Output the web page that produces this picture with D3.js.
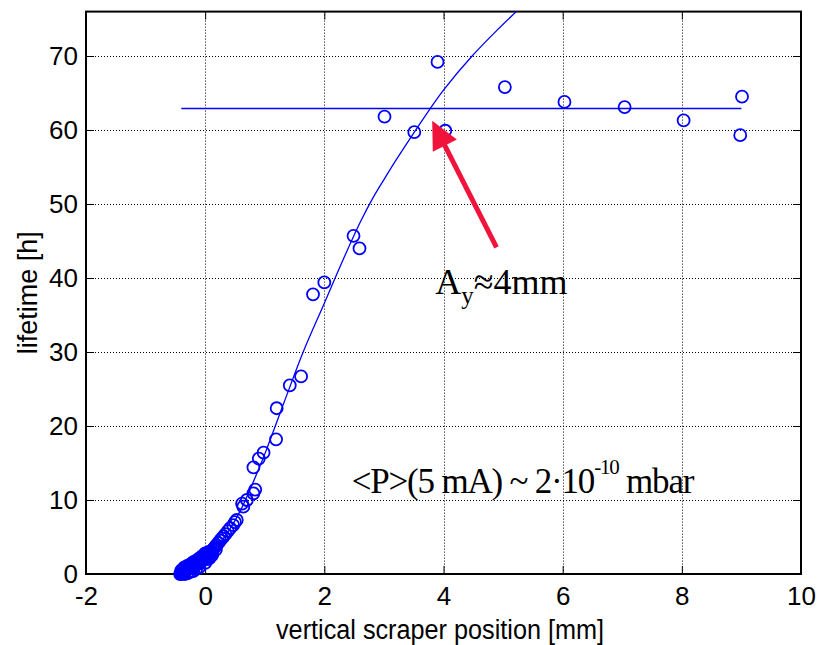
<!DOCTYPE html>
<html>
<head>
<meta charset="utf-8">
<script src="https://cdn.jsdelivr.net/npm/d3@7"></script>
<style>
  body { margin: 0; background: #fff; }
  svg { display: block; }
</style>
</head>
<body>
<div id="chart"></div>
<script>

// measured points (scraper position [mm], lifetime [h])
var posX = [-0.42,-0.41,-0.40,-0.39,-0.38,-0.37,-0.36,-0.35,-0.34,-0.33,-0.31,-0.30,-0.28,-0.26,-0.25,-0.23,-0.21,-0.19,-0.17,-0.15,-0.13,-0.11,-0.09,-0.07,-0.05,-0.03,-0.01,0.01,0.03,0.05,0.07,0.09,0.11,0.13,0.15,0.17,0.19,0.22,0.25,0.28,0.31,0.34,0.38,0.42,0.47,0.50,0.53,
  -0.40,-0.35,-0.30,-0.25,-0.20,-0.15,-0.10,-0.05,0.00,-0.30,-0.20,-0.10,0.00,0.05,0.10,0.18,
  -0.38,-0.33,-0.28,-0.22,-0.18,-0.12,-0.06,-0.02,0.02,0.06,0.08,0.12,-0.35,-0.25,-0.15,
  0.62,0.64,0.70,0.81,0.84,0.81,0.90,0.98,1.19,1.20,1.42,1.61,1.81,2.00,2.49,2.59,3.01,3.51,3.90,4.03,5.03,6.03,7.04,8.03,9.01,8.98];
var lifeY = [0.0,0.1,0.05,0.2,0.15,0.3,0.25,0.4,0.35,0.5,0.55,0.6,0.7,0.75,0.85,0.9,1.0,1.05,1.15,1.25,1.35,1.45,1.55,1.7,1.8,1.95,2.1,2.25,2.4,2.6,2.75,2.95,3.1,3.3,3.5,3.7,3.9,4.2,4.5,4.8,5.1,5.4,5.8,6.2,6.6,7.0,7.3,
  0.5,0.9,1.1,1.3,1.6,1.8,2.1,2.4,2.8,0.1,0.4,0.9,1.5,2.0,2.5,3.3,
  0.6,0.8,1.0,1.2,1.4,1.7,2.0,2.3,2.6,3.0,2.2,2.6,0.0,0.3,0.7,
  9.5,9.1,10.0,10.9,11.4,14.4,15.6,16.4,18.2,22.4,25.5,26.7,37.8,39.4,45.7,44.0,61.8,59.7,69.2,59.9,65.8,63.8,63.1,61.3,64.5,59.3];

// fitted curve
var fitX = [-0.42,-0.2,0,0.2,0.4,0.6,0.8,1.0,1.32,1.65,2.0,2.3,2.6,2.8,3.0,3.2,3.55,3.76,4.0,4.48,4.9,5.3];
var fitY = [0,0.9,2.1,3.7,5.9,8.7,12.3,16.2,23.1,30.1,36.6,42.2,47.5,50.6,53.3,55.9,60.2,62.7,65.4,70.0,73.5,76.6];

// saturation level
var flatX = [-0.4, 9.0];
var flatY = [62.9, 62.9];

var xTicks = [-2,0,2,4,6,8,10];
var yTicks = [0,10,20,30,40,50,60,70];

var width = 818, height = 645;
var blue = "#0000ff", red = "#f0143c";

var x = d3.scaleLinear().domain([-2, 10]).range([86, 801]);
var y = d3.scaleLinear().domain([0, 76]).range([574, 11.6]);

var svg = d3.select("#chart").append("svg")
  .attr("width", width)
  .attr("height", height);

svg.append("rect").attr("width", width).attr("height", height).attr("fill", "#fff");

svg.append("clipPath").attr("id", "plotclip")
  .append("rect")
  .attr("x", x(-2)).attr("y", y(76))
  .attr("width", x(10) - x(-2)).attr("height", y(0) - y(76));

// grid
var grid = svg.append("g").attr("stroke", "#000").attr("stroke-width", 1).attr("stroke-dasharray", "1,2");
grid.selectAll(".gx").data(xTicks.slice(1, -1)).enter().append("line")
  .attr("x1", function(d) { return Math.round(x(d)) + 0.5; })
  .attr("x2", function(d) { return Math.round(x(d)) + 0.5; })
  .attr("y1", y(76)).attr("y2", y(0));
grid.selectAll(".gy").data(yTicks.slice(1)).enter().append("line")
  .attr("y1", function(d) { return Math.round(y(d)) + 0.5; })
  .attr("y2", function(d) { return Math.round(y(d)) + 0.5; })
  .attr("x1", x(-2)).attr("x2", x(10));

// axes with inward ticks
var tl = 8;
var fmt = function(d) { return String(d); };
svg.append("g").attr("transform", "translate(0," + y(0) + ")")
  .call(d3.axisBottom(x).tickValues(xTicks).tickSize(-tl).tickPadding(13).tickFormat(fmt))
  .call(styleAxis);
svg.append("g").attr("transform", "translate(0," + y(76) + ")")
  .call(d3.axisTop(x).tickValues(xTicks).tickSize(-tl).tickFormat(""))
  .call(styleAxis);
svg.append("g").attr("transform", "translate(" + x(-2) + ",0)")
  .call(d3.axisLeft(y).tickValues(yTicks).tickSize(-tl).tickPadding(8).tickFormat(fmt))
  .call(styleAxis);
svg.append("g").attr("transform", "translate(" + x(10) + ",0)")
  .call(d3.axisRight(y).tickValues(yTicks).tickSize(-tl).tickFormat(""))
  .call(styleAxis);

function styleAxis(g) {
  g.select(".domain").remove();
  g.selectAll(".tick line").attr("stroke", "#000").attr("stroke-width", 1);
  g.selectAll("text").attr("font-family", "Liberation Sans, Arial, sans-serif")
    .attr("font-size", 26).attr("fill", "#000");
}

svg.append("rect")
  .attr("x", x(-2)).attr("y", y(76))
  .attr("width", x(10) - x(-2)).attr("height", y(0) - y(76))
  .attr("fill", "none").attr("stroke", "#000").attr("stroke-width", 2);

// labels
svg.append("text")
  .attr("x", 440).attr("y", 639)
  .attr("text-anchor", "middle")
  .attr("font-family", "Liberation Sans, Arial, sans-serif")
  .attr("font-size", 27)
  .attr("textLength", 328).attr("lengthAdjust", "spacingAndGlyphs")
  .text("vertical scraper position [mm]");

svg.append("text")
  .attr("transform", "translate(37," + y(38) + ") rotate(-90)")
  .attr("text-anchor", "middle")
  .attr("font-family", "Liberation Sans, Arial, sans-serif")
  .attr("font-size", 27)
  .text("lifetime [h]");

// data
var plot = svg.append("g").attr("clip-path", "url(#plotclip)");

var line = d3.line()
  .x(function(d) { return x(d[0]); })
  .y(function(d) { return y(d[1]); });

plot.append("path")
  .datum(d3.zip(flatX, flatY))
  .attr("d", line)
  .attr("fill", "none").attr("stroke", blue).attr("stroke-width", 1.5);

plot.append("path")
  .datum(d3.zip(fitX, fitY))
  .attr("d", line.curve(d3.curveCatmullRom))
  .attr("fill", "none").attr("stroke", blue).attr("stroke-width", 1.3);

svg.append("g").selectAll("circle")
  .data(d3.zip(posX, lifeY))
  .enter().append("circle")
  .attr("cx", function(d) { return x(d[0]); })
  .attr("cy", function(d) { return y(d[1]); })
  .attr("r", 6)
  .attr("fill", "none")
  .attr("stroke", blue)
  .attr("stroke-width", 1.8);

// arrow pointing at the crossing
var tail = [x(4.89), y(44.15)], tip = [x(3.81), y(61.26)];
var dx = tip[0] - tail[0], dy = tip[1] - tail[1];
var len = Math.sqrt(dx * dx + dy * dy);
var ux = dx / len, uy = dy / len;
var hl = 28, hw = 13.5;
var bx = tip[0] - ux * hl, by = tip[1] - uy * hl;
svg.append("line")
  .attr("x1", tail[0]).attr("y1", tail[1])
  .attr("x2", bx + ux * 2).attr("y2", by + uy * 2)
  .attr("stroke", red).attr("stroke-width", 5);
svg.append("path")
  .attr("d", "M" + tip[0] + "," + tip[1] +
    "L" + (bx - uy * hw) + "," + (by + ux * hw) +
    "L" + (bx + uy * hw) + "," + (by - ux * hw) + "Z")
  .attr("fill", red);

// annotations
var a1 = svg.append("text")
  .attr("x", x(3.86)).attr("y", y(37.8))
  .attr("font-family", "Liberation Serif, Times New Roman, serif")
  .attr("font-size", 36);
a1.append("tspan").text("A");
a1.append("tspan").attr("dy", 10).attr("font-size", 25).text("y");
a1.append("tspan").attr("dy", -10).text("≈4mm");

var a2 = svg.append("text")
  .attr("x", x(2.46)).attr("y", y(10.9))
  .attr("font-family", "Liberation Serif, Times New Roman, serif")
  .attr("font-size", 35)
  .attr("letter-spacing", -1.2);
a2.append("tspan").text("<P>(5 mA) ~ 2·10");
a2.append("tspan").attr("dy", -19).attr("font-size", 21).text("-10");
a2.append("tspan").attr("dy", 19).text(" mbar");

</script>
</body>
</html>
